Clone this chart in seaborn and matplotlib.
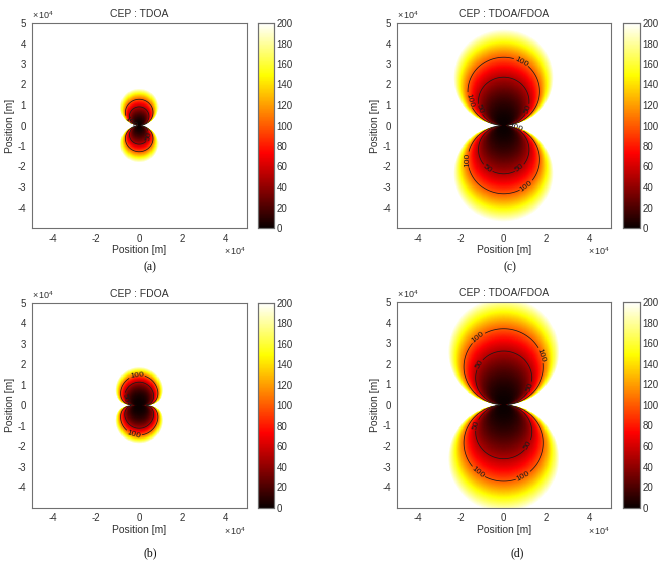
import numpy as np
import matplotlib
matplotlib.use("Agg")
import matplotlib.pyplot as plt
import seaborn as sns

# ---- data (positions in units of 1e4 m) ----
panel_tags = ["(a)", "(b)", "(c)", "(d)"]
titles = ["CEP : TDOA", "CEP : FDOA", "CEP : TDOA/FDOA", "CEP : TDOA/FDOA"]
cep100_top = [1.28, 1.45, 3.33, 3.70]     # top of the 100 m contour
cep_shape_q = [1.0, 0.5, 1.0, 1.0]        # lobe shape (1 = circle tangent at origin)
cep_width_w = [1.0, 0.87, 1.0, 1.0]       # horizontal stretch of lobes
cep_growth_n = [2.0, 1.8, 2.0, 2.0]       # growth of CEP with distance
contour_levels = [50, 100]
x_ticks = [-4, -2, 0, 2, 4]
y_ticks = [-4, -3, -2, -1, 0, 1, 2, 3, 4, 5]
cbar_ticks = [0, 20, 40, 60, 80, 100, 120, 140, 160, 180, 200]

# contour-label placement (angle in degrees around each lobe's centre)
# keys: (level, lobe) with lobe +1 upper / -1 lower
label_angles = [
    {(100, 1): [230], (50, -1): [350]},
    {(100, 1): [100], (50, 1): [200], (100, -1): [250]},
    {(100, 1): [60, 195], (50, 1): [200, 340], (100, -1): [70, 180, 310],
     (50, -1): [230, 310]},
    {(100, 1): [130, 17], (50, 1): [150, 340], (100, -1): [230, 300],
     (50, -1): [165, 330]},
]

sns.set_style("white")
plt.rcParams["font.family"] = ["Liberation Sans", "DejaVu Sans"]
plt.rcParams["mathtext.fontset"] = "custom"
plt.rcParams["mathtext.rm"] = "Liberation Sans"

N = 400
coords = -5 + (np.arange(N) + 0.5) * 10.0 / N
X, Y = np.meshgrid(coords, coords)


def to_pos(v):
    return (np.asarray(v, dtype=float) + 5) / 10.0 * N


def cep_field(h, q, w, n):
    g = ((X / w) ** 2 + Y ** 2) / np.abs(Y) ** q
    g100 = h ** (2 - q)
    return np.minimum(100 * (g / g100) ** n, 1000)


W, H = 669, 580
fig = plt.figure(figsize=(W / 100, H / 100), dpi=100)


def rect(l, t, r, b):
    return [l / W, 1 - b / H, (r - l) / W, (b - t) / H]


layout = [
    ((31.7, 23, 246.7, 228), (258, 274), (150, 267)),
    ((31.7, 302.7, 246.7, 507.7), (258, 274), (150, 553)),
    ((396.7, 23, 610.7, 228), (623, 640), (510, 267)),
    ((396.7, 302, 610.7, 507.7), (623, 640), (517, 553)),
]

txt = "#303030"
edge = "#707070"

for k in range(4):
    (l, t, r, b), (cl, cr), (tx, ty) = layout[k]
    ax = fig.add_axes(rect(l, t, r, b))
    cax = fig.add_axes(rect(cl, t, cr, b))
    Z = cep_field(cep100_top[k], cep_shape_q[k], cep_width_w[k], cep_growth_n[k])
    sns.heatmap(Z, ax=ax, cbar_ax=cax, cmap="hot", vmin=0, vmax=200,
                xticklabels=False, yticklabels=False, rasterized=True)
    ax.set_ylim(0, N)
    ax.set_xlim(0, N)
    P = to_pos(coords)
    cs = ax.contour(P, P, Z, levels=contour_levels, colors="#1a1a1a",
                    linewidths=0.55)

    # choose label points on the drawn contour paths, lobe by lobe
    manual = []
    for li, lev in enumerate(contour_levels):
        segs = [s for s in cs.allsegs[li] if len(s) > 0]
        if not segs:
            continue
        pts = np.vstack(segs)
        for lobe in (1, -1):
            sel = pts[(pts[:, 1] - N / 2) * lobe > 0.5]
            if len(sel) < 5:
                continue
            c = np.array([sel[:, 0].mean(),
                          (sel[:, 1].max() + sel[:, 1].min()) / 2])
            d = sel - c
            a = np.degrees(np.arctan2(d[:, 1], d[:, 0])) % 360
            for ang in label_angles[k].get((lev, lobe), []):
                diff = np.abs((a - ang + 180) % 360 - 180)
                manual.append(tuple(sel[np.argmin(diff)]))
    if manual:
        ax.clabel(cs, fmt="%d", fontsize=6, inline=True, inline_spacing=1,
                  manual=manual, colors="#1a1a1a")

    ax.set_xticks(to_pos(x_ticks))
    ax.set_xticklabels([str(v) for v in x_ticks])
    ax.set_yticks(to_pos(y_ticks))
    ax.set_yticklabels([str(v) for v in y_ticks])
    ax.tick_params(direction="in", length=2.5, width=0.5, colors=edge,
                   labelcolor=txt, labelsize=7, pad=4)
    for sp in ax.spines.values():
        sp.set_visible(True)
        sp.set_color(edge)
        sp.set_linewidth(0.8)
    ax.set_xlabel("Position [m]", fontsize=7.5, color=txt, labelpad=1)
    ax.set_ylabel("Position [m]", fontsize=7.5, color=txt, labelpad=2)
    ax.set_title(titles[k], fontsize=7.5, color=txt, pad=4)
    ax.text(0.0, 1.01, r"$\times\,10^4$", transform=ax.transAxes,
            fontsize=6.5, color=txt, ha="left", va="bottom")
    ax.text(1.0, -0.085, r"$\times\,10^4$", transform=ax.transAxes,
            fontsize=6.5, color=txt, ha="right", va="top")

    cax.set_yticks(cbar_ticks)
    cax.set_yticklabels([str(v) for v in cbar_ticks])
    cax.tick_params(axis="y", direction="in", length=3, width=0.5, colors=edge,
                    labelcolor=txt, labelsize=7, pad=2, right=True, left=False)
    for sp in cax.spines.values():
        sp.set_visible(True)
        sp.set_color(edge)
        sp.set_linewidth(0.8)
    cbar_obj = ax.collections[0].colorbar
    if cbar_obj is not None:
        cbar_obj.outline.set_linewidth(0.8)
        cbar_obj.outline.set_edgecolor(edge)

    fig.text(tx / W, 1 - ty / H, panel_tags[k], fontsize=8.5,
             family=["Liberation Serif", "DejaVu Serif"], color="#111111",
             ha="center", va="center")

fig.savefig("out.png", dpi=100)
